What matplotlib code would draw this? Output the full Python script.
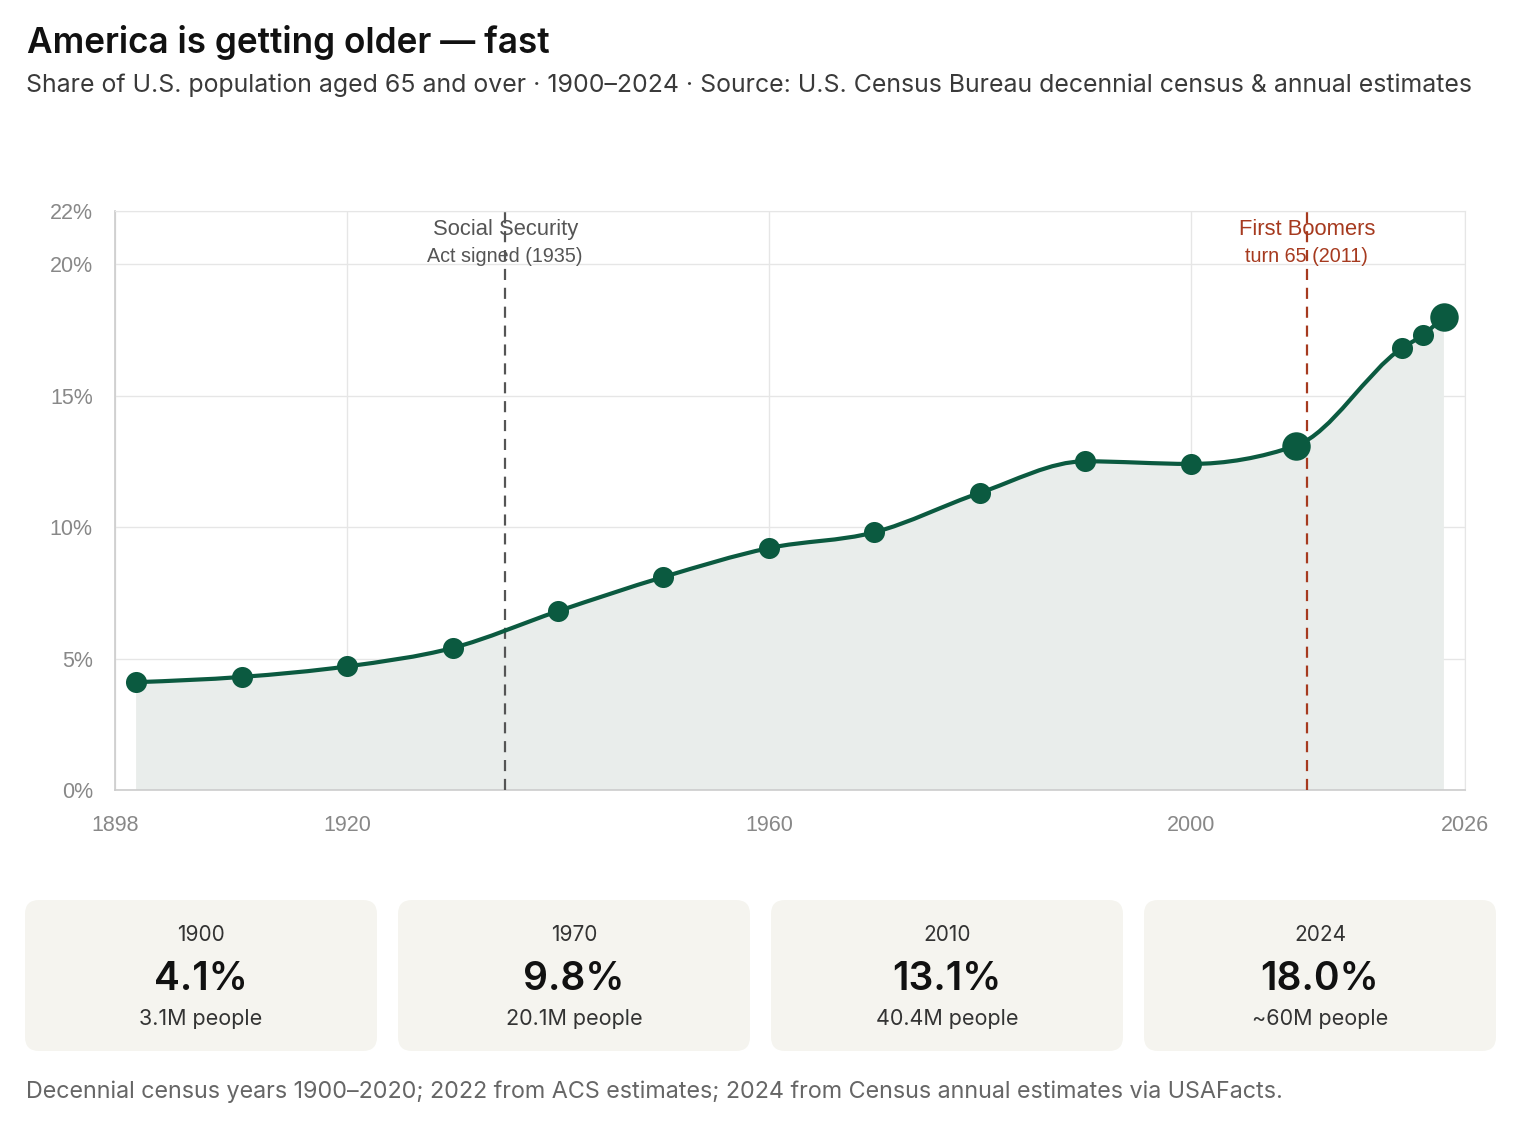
import matplotlib
matplotlib.use("Agg")
import matplotlib.pyplot as plt
from matplotlib.path import Path
from matplotlib.patches import PathPatch, FancyBboxPatch
from matplotlib.transforms import IdentityTransform
import numpy as np

# share of U.S. population aged 65+
years = [1900, 1910, 1920, 1930, 1940, 1950, 1960, 1970, 1980, 1990, 2000, 2010, 2020, 2022, 2024]
share = [4.1, 4.3, 4.7, 5.4, 6.8, 8.1, 9.2, 9.8, 11.3, 12.5, 12.4, 13.1, 16.8, 17.3, 18.0]
big_points = [2010, 2024]

x_ticks = [1898, 1920, 1960, 2000, 2026]
y_ticks = [0, 5, 10, 15, 20, 22]

events = [1935, 2011]
event_titles = ["Social Security", "First Boomers"]
event_subs = ["Act signed (1935)", "turn 65 (2011)"]
event_colors = ["#555555", "#a63a1f"]

card_years = [1900, 1970, 2010, 2024]
card_people = ["3.1M people", "20.1M people", "40.4M people", "~60M people"]

GREEN = "#0b5a40"
W, H = 1524, 1130


def monotone_path(xs, ys):
    # cubic bezier path with monotone-x tangents (same as d3.curveMonotoneX)
    xs = np.asarray(xs, float)
    ys = np.asarray(ys, float)
    n = len(xs)
    h = np.diff(xs)
    s = np.diff(ys) / h
    t = np.zeros(n)
    for i in range(1, n - 1):
        p = (s[i - 1] * h[i] + s[i] * h[i - 1]) / (h[i - 1] + h[i])
        t[i] = (np.sign(s[i - 1]) + np.sign(s[i])) * min(abs(s[i - 1]), abs(s[i]), 0.5 * abs(p))
    t[0] = (3 * s[0] - t[1]) / 2
    t[-1] = (3 * s[-1] - t[-2]) / 2
    verts = [(xs[0], ys[0])]
    codes = [Path.MOVETO]
    for i in range(n - 1):
        dx = h[i] / 3
        verts += [(xs[i] + dx, ys[i] + dx * t[i]),
                  (xs[i + 1] - dx, ys[i + 1] - dx * t[i + 1]),
                  (xs[i + 1], ys[i + 1])]
        codes += [Path.CURVE4] * 3
    return verts, codes


fig = plt.figure(figsize=(W / 100, H / 100), dpi=100)
fig.patch.set_facecolor("white")

ax = fig.add_axes([115 / W, 1 - 790 / H, 1350 / W, 578.5 / H])
ax.set_xlim(1898, 2026)
ax.set_ylim(0, 22)

verts, codes = monotone_path(years, share)

# area under the curve
area_verts = verts + [(years[-1], 0), (years[0], 0), (years[0], share[0])]
area_codes = codes + [Path.LINETO, Path.LINETO, Path.CLOSEPOLY]
ax.add_patch(PathPatch(Path(area_verts, area_codes), facecolor="#e9edeb",
                       edgecolor="none", zorder=1))
ax.add_patch(PathPatch(Path(verts, codes), facecolor="none", edgecolor=GREEN,
                       lw=3, capstyle="round", zorder=4))

small = [(x, y) for x, y in zip(years, share) if x not in big_points]
large = [(x, y) for x, y in zip(years, share) if x in big_points]
ax.scatter([p[0] for p in small], [p[1] for p in small], s=230, color=GREEN, zorder=5, lw=0)
ax.scatter([p[0] for p in large], [p[1] for p in large], s=420, color=GREEN, zorder=5, lw=0)

# event lines
for yr, t1, t2, c in zip(events, event_titles, event_subs, event_colors):
    ax.text(yr, 21.3, t1, ha="center", va="center", fontsize=15.8,
            family="Liberation Sans", color=c, zorder=2)
    ax.text(yr, 20.3, t2, ha="center", va="center", fontsize=14.2,
            family="Liberation Sans", color=c, zorder=2)
    ax.axvline(yr, color=c, lw=1.6, ls=(0, (5, 3.5)), zorder=3)

ax.set_xticks(x_ticks)
ax.set_xticklabels([str(v) for v in x_ticks])
ax.set_yticks(y_ticks)
ax.set_yticklabels([f"{v}%" for v in y_ticks])
ax.tick_params(length=0, labelsize=15.5, labelcolor="#888888")
ax.tick_params(axis="y", pad=16)
ax.tick_params(axis="x", pad=18)
for lab in ax.get_xticklabels() + ax.get_yticklabels():
    lab.set_family("Liberation Sans")
ax.grid(True, color="#e6e6e6", lw=1, zorder=0)
ax.set_axisbelow(True)
for side in ["top", "right"]:
    ax.spines[side].set_color("#e6e6e6")
for side in ["left", "bottom"]:
    ax.spines[side].set_color("#cccccc")
    ax.spines[side].set_linewidth(1.2)
ax.set_facecolor("white")

# titles
fig.text(27 / W, 1 - 43 / H, "America is getting older \u2014 fast", fontsize=25.3,
         family="Inter", weight="semibold", color="#111111", va="center")
fig.text(26 / W, 1 - 85 / H, "Share of U.S. population aged 65 and over \u00b7 1900\u20132024 \u00b7 "
         "Source: U.S. Census Bureau decennial census & annual estimates",
         fontsize=17.9, family="Inter", color="#3a3a3a", va="center")

# stat cards
card_w, card_h, gap = 352, 151, 21
for i, (cy, people) in enumerate(zip(card_years, card_people)):
    x0 = 25 + i * (card_w + gap)
    y0 = H - 1051
    fig.patches.append(FancyBboxPatch((x0, y0), card_w, card_h,
                                      boxstyle="round,pad=0,rounding_size=14",
                                      transform=IdentityTransform(),
                                      facecolor="#f5f4ef", edgecolor="none"))
    cx = (x0 + card_w / 2) / W
    val = share[years.index(cy)]
    fig.text(cx, 1 - 935 / H, str(cy), ha="center", va="center", fontsize=15,
             family="Inter", color="#333333")
    fig.text(cx, 1 - 980 / H, f"{val:.1f}%", ha="center", va="center", fontsize=28,
             family="Inter", weight="semibold", color="#111111")
    fig.text(cx, 1 - 1019 / H, people, ha="center", va="center", fontsize=15.5,
             family="Inter", color="#333333")

fig.text(26 / W, 1 - 1092 / H, "Decennial census years 1900\u20132020; 2022 from ACS estimates; "
         "2024 from Census annual estimates via USAFacts.",
         fontsize=16.8, family="Inter", color="#666666", va="center")

fig.savefig("out.png", dpi=100)
